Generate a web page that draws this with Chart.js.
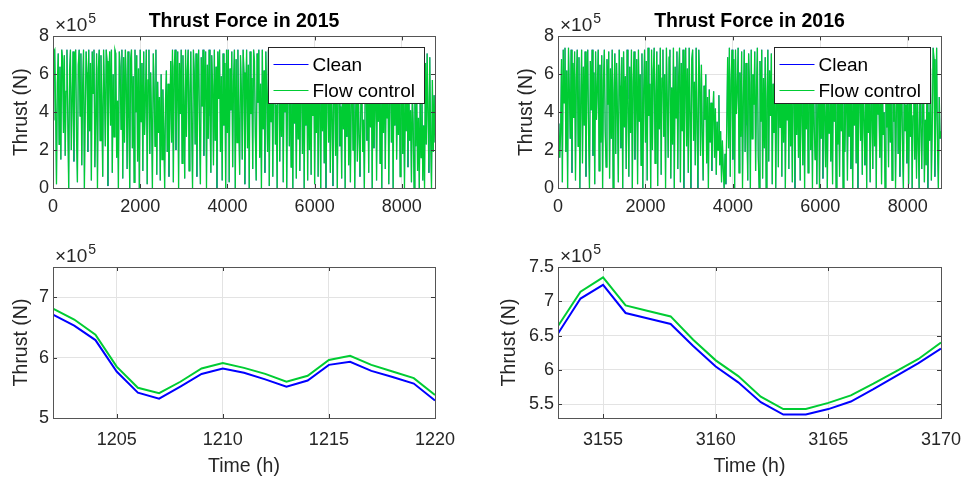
<!DOCTYPE html>
<html>
<head>
<meta charset="utf-8">
<script src="https://cdn.jsdelivr.net/npm/chart.js@4.4.1/dist/chart.umd.min.js"></script>
<style>
  html, body { margin: 0; padding: 0; background: #fff; }
  #wrap { position: relative; width: 966px; height: 478px; overflow: hidden; }
  canvas { position: absolute; }
</style>
</head>
<body>
<div id="wrap">
  <canvas id="year2015" style="left:0px;top:0px" width="480" height="230"></canvas>
  <canvas id="year2016" style="left:490px;top:0px" width="476" height="230"></canvas>
  <canvas id="detail2015" style="left:0px;top:230px" width="480" height="248"></canvas>
  <canvas id="detail2016" style="left:490px;top:230px" width="476" height="248"></canvas>
</div>
<script>
// thrust values are in units of 1e5 N (axes show "x10^5")
const seriesNames = ["Clean", "Flow control"];
const seriesColors = ["#0000ff", "#00cc33"];

// full-year traces, one reading every sampleStep hours
const sampleStep = 20;
const flow2015Year = [
  3.6, 7.2, 7.3, 4.1, 0.2, 5.6, 7.1, 2.3, 6.4, 1.5, 7.3, 6.8, 2.9, 7.0, 1.7, 5.1, 7.3, 3.4, 0.0, 6.2,
  7.3, 2.0, 4.7, 7.2, 1.4, 6.9, 7.3, 2.6, 0.3, 6.5, 7.3, 3.8, 7.1, 1.2, 5.4, 7.3, 0.0, 4.2, 7.2, 6.1,
  1.9, 7.3, 3.0, 6.6, 0.4, 7.2, 5.0, 7.3, 1.1, 3.9, 7.1, 0.0, 6.3, 7.3, 2.5, 7.0, 4.4, 0.6, 7.3, 5.2,
  2.2, 7.3, 6.7, 0.1, 5.8, 7.2, 3.3, 7.3, 0.8, 6.0, 2.7, 7.3, 7.1, 1.6, 4.6, 0.0, 7.2, 6.4, 3.1, 7.3,
  0.5, 6.9, 2.4, 7.3, 5.5, 1.0, 7.2, 3.7, 0.0, 6.8, 7.3, 2.1, 5.9, 0.3, 7.3, 4.0, 7.0, 1.4, 6.3, 0.0,
  7.3, 3.5, 6.6, 0.9, 7.2, 2.8, 4.9, 7.3, 0.2, 5.7, 7.3, 1.8, 6.1, 3.6, 0.0, 7.1, 5.3, 2.2, 7.3, 0.7,
  5.6, 2.9, 4.8, 0.4, 6.0, 1.5, 5.2, 3.1, 0.0, 4.6, 6.2, 1.9, 5.5, 0.6, 3.8, 6.7, 2.4, 7.3, 0.3, 6.4,
  7.3, 2.0, 5.1, 7.2, 0.0, 6.6, 3.9, 7.3, 1.3, 7.0, 4.6, 0.5, 7.3, 2.7, 6.2, 7.3, 0.9, 5.0, 7.2, 3.2,
  0.0, 7.3, 6.1, 2.3, 7.1, 0.6, 5.7, 7.3, 3.0, 0.2, 6.9, 4.3, 7.3, 1.7, 5.3, 7.2, 0.0, 6.5, 2.6, 7.3,
  3.8, 0.8, 7.0, 5.4, 1.2, 7.3, 2.5, 6.4, 0.0, 7.2, 4.7, 7.3, 1.9, 5.9, 0.4, 7.1, 3.3, 6.6, 0.0, 7.3,
  2.9, 7.3, 0.3, 6.3, 4.1, 7.2, 1.1, 5.6, 7.3, 0.0, 6.8, 2.4, 7.3, 3.6, 0.7, 7.0, 5.2, 1.5, 7.3, 6.1,
  0.2, 4.8, 7.3, 2.1, 6.5, 0.0, 7.2, 3.9, 5.8, 1.0, 7.3, 6.7, 2.8, 0.4, 7.1, 4.5, 7.3, 1.6, 5.5, 0.0,
  7.3, 3.1, 6.2, 0.8, 7.2, 5.0, 1.9, 7.3, 0.1, 6.4, 3.5, 7.0, 0.6, 5.7, 7.3, 2.3, 4.4, 0.0, 6.9, 7.2,
  1.4, 5.9, 2.7, 7.3, 0.3, 6.1, 4.0, 7.1, 0.0, 5.3, 7.3, 2.2, 6.6, 1.1, 4.7, 0.0, 7.2, 3.4, 5.6, 0.5,
  6.8, 2.6, 7.3, 0.9, 4.9, 6.4, 1.8, 7.2, 0.0, 5.8, 3.3, 6.9, 0.4, 7.3, 2.0, 5.1, 0.7, 6.3, 3.8, 7.1,
  0.2, 5.5, 2.9, 7.0, 0.6, 6.2, 4.2, 0.0, 7.3, 3.0, 5.7, 1.3, 6.7, 0.0, 4.6, 7.2, 2.4, 5.9, 0.8, 6.5,
  3.6, 0.1, 7.1, 4.8, 1.7, 6.0, 0.0, 5.2, 7.3, 2.2, 4.3, 0.5, 6.8, 3.1, 5.6, 0.0, 6.3, 2.7, 7.0, 1.2,
  5.4, 0.3, 4.7, 6.0, 2.0, 5.1, 0.0, 3.9, 6.1, 1.4, 5.6, 2.8, 0.6, 4.5, 5.9, 1.9, 3.6, 0.0, 5.3, 6.2,
  2.5, 4.9, 0.8, 6.4, 3.2, 5.5, 0.0, 6.8, 2.1, 4.2, 7.1, 0.4, 5.8, 3.5, 6.9, 1.3, 4.8, 0.0, 6.6, 2.9,
  7.2, 1.0, 5.3, 3.7, 6.5, 0.2, 4.6, 7.0, 2.4, 5.9, 0.0, 6.3, 3.3, 7.2, 1.5, 5.0, 2.8, 6.7, 0.6, 4.4,
  6.1, 1.8, 5.6, 0.0, 4.9, 3.0, 6.4, 1.1, 5.2, 2.5, 4.1, 0.3, 5.0, 3.4, 0.0, 4.6, 2.2, 5.3, 0.9, 3.7,
  0.0, 4.8, 1.6, 5.1, 0.4, 3.3, 0.0, 6.6, 2.3, 7.1, 4.0, 0.8, 6.9, 2.6, 0.0, 5.7, 1.9, 4.9, 2.4
];
const flow2016Year = [
  2.0, 3.4, 1.6, 2.9, 6.8, 0.3, 7.3, 4.5, 7.4, 1.9, 6.2, 0.0, 7.4, 5.1, 2.6, 7.3, 0.8, 6.6, 3.7, 7.2,
  0.4, 5.8, 7.3, 2.2, 6.9, 0.0, 4.6, 7.3, 1.3, 6.4, 3.3, 7.2, 0.6, 5.5, 7.3, 2.8, 0.0, 6.7, 4.1, 7.3,
  1.7, 6.1, 0.2, 7.2, 3.6, 5.3, 7.3, 0.9, 6.5, 2.4, 7.0, 0.0, 5.7, 7.3, 3.0, 1.1, 6.8, 4.4, 7.2, 0.5,
  6.3, 2.6, 7.3, 0.0, 5.0, 7.1, 1.8, 6.6, 3.9, 0.3, 7.3, 5.4, 2.1, 6.9, 0.0, 7.2, 3.2, 5.9, 1.0, 7.3,
  4.7, 0.6, 6.4, 2.9, 7.3, 0.0, 5.6, 7.2, 1.5, 4.3, 6.8, 0.2, 7.3, 3.5, 6.0, 1.2, 7.1, 0.0, 5.2, 7.3,
  2.4, 6.7, 0.4, 7.4, 3.8, 5.5, 0.0, 7.3, 2.0, 6.2, 7.4, 1.3, 4.9, 7.2, 0.1, 6.5, 3.1, 7.4, 0.7, 5.8,
  7.3, 2.7, 6.0, 0.0, 7.4, 4.6, 1.6, 6.9, 7.3, 0.5, 5.3, 2.3, 7.4, 0.0, 6.4, 3.7, 7.2, 1.0, 5.9, 7.4,
  0.3, 6.6, 3.0, 7.3, 0.0, 5.1, 7.4, 2.2, 6.3, 0.8, 7.4, 4.0, 0.0, 6.8, 7.3, 2.5, 5.6, 1.2, 7.4, 3.4,
  0.0, 7.3, 5.8, 1.7, 6.5, 2.9, 0.4, 5.4, 3.6, 6.0, 1.3, 4.8, 0.0, 5.2, 2.4, 4.5, 0.9, 3.8, 5.1, 1.6,
  4.2, 0.7, 3.5, 2.0, 4.9, 1.2, 3.0, 0.3, 2.5, 1.0, 0.0, 1.8, 0.2, 3.4, 6.9, 2.1, 7.4, 0.6, 5.7, 7.3,
  1.5, 6.8, 0.0, 7.3, 3.9, 5.2, 7.4, 0.8, 6.1, 2.7, 7.2, 0.0, 4.8, 7.3, 1.9, 6.6, 3.3, 0.4, 7.1, 5.5,
  0.0, 7.3, 2.6, 6.0, 4.4, 7.2, 0.9, 5.3, 7.4, 1.7, 0.0, 6.7, 3.5, 7.3, 0.5, 5.8, 2.1, 6.9, 0.0, 4.6,
  7.3, 1.4, 6.2, 3.8, 7.1, 0.2, 5.5, 2.9, 7.3, 0.0, 4.3, 6.5, 1.1, 7.2, 3.2, 5.9, 0.6, 6.8, 2.4, 7.3,
  0.0, 5.1, 3.6, 6.4, 1.0, 7.2, 2.2, 4.7, 0.3, 6.7, 5.3, 0.0, 7.1, 2.8, 6.0, 1.6, 5.5, 0.4, 6.9, 3.9,
  1.2, 6.3, 0.0, 5.7, 3.1, 7.0, 0.8, 4.5, 6.6, 2.0, 5.2, 0.0, 6.8, 3.4, 1.5, 5.9, 0.2, 4.1, 6.4, 0.0,
  5.5, 2.6, 7.1, 0.5, 6.0, 3.7, 1.1, 6.7, 0.0, 5.0, 2.9, 6.3, 1.4, 4.8, 0.2, 7.0, 3.5, 5.6, 0.0, 6.2,
  2.3, 4.9, 0.6, 6.5, 3.0, 5.4, 0.0, 6.9, 1.9, 4.3, 6.1, 0.4, 5.7, 2.7, 7.1, 1.0, 4.6, 0.0, 6.4, 3.3,
  5.8, 1.3, 6.6, 0.0, 4.2, 6.9, 2.5, 5.1, 0.7, 6.3, 3.6, 1.2, 5.5, 0.0, 6.8, 2.9, 4.7, 0.3, 6.0, 3.8,
  1.0, 6.5, 2.2, 5.3, 0.0, 6.9, 3.9, 4.5, 1.6, 6.1, 0.2, 5.6, 2.8, 4.0, 0.0, 6.4, 3.2, 5.0, 1.1, 6.7,
  2.4, 4.8, 0.4, 6.2, 3.5, 5.4, 0.0, 4.1, 6.6, 1.8, 5.0, 0.6, 3.7, 6.3, 2.0, 0.0, 5.8, 3.0, 4.4, 1.3,
  6.0, 0.2, 4.6, 2.7, 5.5, 0.0, 3.8, 6.2, 1.5, 4.9, 0.5, 5.3, 2.3, 0.0, 6.5, 3.4, 1.0, 4.2, 5.7, 0.3,
  3.6, 1.2, 5.9, 0.0, 4.0, 2.5, 6.3, 0.4, 3.2, 7.4, 6.8, 0.6, 3.9, 7.4, 2.1, 0.0, 4.8, 2.6, 3.0
];
// at full-year scale the clean trace lies under the flow-control trace
const clean2015Year = flow2015Year;
const clean2016Year = flow2016Year;

// zoomed windows, hourly
const hours2015Detail = [1202, 1203, 1204, 1205, 1206, 1207, 1208, 1209, 1210, 1211, 1212, 1213, 1214, 1215, 1216, 1217, 1218, 1219, 1220];
const clean2015Detail = [6.71, 6.53, 6.29, 5.77, 5.42, 5.32, 5.52, 5.73, 5.82, 5.75, 5.64, 5.52, 5.62, 5.88, 5.93, 5.78, 5.68, 5.57, 5.29];
const flow2015Detail  = [6.81, 6.63, 6.38, 5.85, 5.50, 5.41, 5.60, 5.82, 5.91, 5.83, 5.73, 5.60, 5.70, 5.96, 6.03, 5.88, 5.77, 5.66, 5.38];

const hours2016Detail = [3153, 3154, 3155, 3156, 3157, 3158, 3159, 3160, 3161, 3162, 3163, 3164, 3165, 3166, 3167, 3168, 3169, 3170];
const clean2016Detail = [6.53, 7.04, 7.24, 6.83, 6.75, 6.67, 6.35, 6.05, 5.82, 5.53, 5.35, 5.35, 5.43, 5.54, 5.72, 5.91, 6.10, 6.31];
const flow2016Detail  = [6.64, 7.14, 7.35, 6.94, 6.86, 6.78, 6.44, 6.14, 5.91, 5.61, 5.43, 5.43, 5.52, 5.63, 5.80, 5.98, 6.16, 6.40];

// tick labels
const yearXTicks = [0, 2000, 4000, 6000, 8000];
const yearYTicks = [0, 2, 4, 6, 8];
const detail2015XTicks = [1205, 1210, 1215, 1220];
const detail2015YTicks = [5, 6, 7];
const detail2016XTicks = [3155, 3160, 3165, 3170];
const detail2016YTicks = [5.5, 6, 6.5, 7, 7.5];

const FONT = "'Liberation Sans', Arial, Helvetica, sans-serif";
const TXT = "#262626";

function yearPoints(values) {
  return values.map((v, i) => ({ x: i * sampleStep, y: v }));
}
function pairPoints(xs, ys) {
  return xs.map((x, i) => ({ x: x, y: ys[i] }));
}

// MATLAB-like axes box, inward ticks, exponent label and boxed legend
const axesDecor = {
  id: "axesDecor",
  afterDraw(chart, args, opts) {
    const ctx = chart.ctx;
    const a = chart.chartArea;
    const xs = chart.scales.x, ys = chart.scales.y;
    ctx.save();
    ctx.strokeStyle = "#3a3a3a";
    ctx.lineWidth = 1;
    ctx.beginPath();
    xs.ticks.forEach(t => {
      const px = Math.round(xs.getPixelForValue(t.value)) + 0.5;
      ctx.moveTo(px, a.bottom); ctx.lineTo(px, a.bottom - 4);
      ctx.moveTo(px, a.top); ctx.lineTo(px, a.top + 4);
    });
    ys.ticks.forEach(t => {
      const py = Math.round(ys.getPixelForValue(t.value)) + 0.5;
      ctx.moveTo(a.left, py); ctx.lineTo(a.left + 4, py);
      ctx.moveTo(a.right, py); ctx.lineTo(a.right - 4, py);
    });
    ctx.stroke();
    ctx.strokeStyle = "#555";
    ctx.strokeRect(Math.round(a.left) + 0.5, Math.round(a.top) + 0.5,
      Math.round(a.right - a.left), Math.round(a.bottom - a.top));

    // exponent
    ctx.fillStyle = TXT;
    ctx.textBaseline = "alphabetic";
    ctx.textAlign = "left";
    ctx.font = "19px " + FONT;
    const base = a.top - 5;
    ctx.fillText("\u00d710", a.left + 2, base);
    const w = ctx.measureText("\u00d710").width;
    ctx.font = "14px " + FONT;
    ctx.fillText("5", a.left + 2 + w + 1, base - 8);

    // legend
    if (opts.legend) {
      const bw = 156, bh = 56;
      const bx = Math.round(a.right - 11 - bw) + 0.5;
      const by = Math.round(a.top + 11) + 0.5;
      ctx.fillStyle = "#fff";
      ctx.fillRect(bx, by, bw, bh);
      ctx.strokeStyle = "#262626";
      ctx.strokeRect(bx, by, bw, bh);
      ctx.font = "19px " + FONT;
      ctx.textBaseline = "middle";
      chart.data.datasets.forEach((ds, i) => {
        const yy = by + 17 + i * 26;
        ctx.strokeStyle = ds.borderColor;
        ctx.lineWidth = 1;
        ctx.beginPath();
        ctx.moveTo(bx + 5, yy); ctx.lineTo(bx + 40, yy);
        ctx.stroke();
        ctx.fillStyle = "#000";
        ctx.fillText(ds.label, bx + 44, yy + 1);
      });
    }
    ctx.restore();
  }
};

function makeChart(id, cfg) {
  const ctx = document.getElementById(id);
  return new Chart(ctx, {
    type: "line",
    data: {
      datasets: cfg.series.map((s, i) => ({
        label: seriesNames[i],
        data: s,
        order: cfg.series.length - i, // flow control drawn on top
        borderColor: seriesColors[i],
        borderWidth: cfg.lineWidths[i],
        pointRadius: 0,
        tension: 0,
        fill: false
      }))
    },
    options: {
      responsive: false,
      animation: false,
      devicePixelRatio: 1,
      parsing: false,
      layout: { padding: { left: cfg.padLeft, right: cfg.padRight, top: cfg.title ? 0 : 37, bottom: 0 } },
      plugins: {
        legend: { display: false },
        tooltip: { enabled: false },
        title: {
          display: !!cfg.title,
          text: cfg.title || "",
          fullSize: false,
          color: "#000",
          font: { family: FONT, size: 19.5, weight: "bold", lineHeight: 1.2 },
          padding: { top: 10, bottom: 3 }
        },
        axesDecor: { legend: cfg.legend }
      },
      scales: {
        x: {
          type: "linear",
          min: cfg.xMin, max: cfg.xMax,
          afterBuildTicks: s => { s.ticks = cfg.xTicks.map(v => ({ value: v })); },
          afterFit: s => { s.height = cfg.xHeight; s.paddingLeft = 0; s.paddingRight = 0; },
          grid: { color: "#e3e3e3", drawTicks: false, lineWidth: 1 },
          border: { display: false },
          ticks: { color: TXT, font: { family: FONT, size: 18 }, padding: cfg.xTickPad, maxRotation: 0, autoSkip: false,
                   callback: v => String(v) },
          title: { display: !!cfg.xTitle, text: cfg.xTitle || "", color: TXT,
                   font: { family: FONT, size: 19.5 }, padding: { top: 0, bottom: 0 } }
        },
        y: {
          min: cfg.yMin, max: cfg.yMax,
          afterBuildTicks: s => { s.ticks = cfg.yTicks.map(v => ({ value: v })); },
          afterFit: s => { s.width = cfg.yWidth; },
          grid: { color: "#e3e3e3", drawTicks: false, lineWidth: 1 },
          border: { display: false },
          ticks: { color: TXT, font: { family: FONT, size: 18 }, padding: 4, callback: v => String(v) },
          title: { display: true, text: "Thrust (N)", color: TXT,
                   font: { family: FONT, size: 19.5 }, padding: { top: 0, bottom: 0 } }
        }
      }
    },
    plugins: [axesDecor]
  });
}

makeChart("year2015", {
  title: "Thrust Force in 2015",
  series: [yearPoints(clean2015Year), yearPoints(flow2015Year)],
  lineWidths: [0.5, 1.3], legend: true,
  xMin: 0, xMax: 8760, xTicks: yearXTicks, xTickPad: 8,
  yMin: 0, yMax: 8, yTicks: yearYTicks,
  padLeft: 10, padRight: 45, yWidth: 43, xHeight: 42
});
makeChart("year2016", {
  title: "Thrust Force in 2016",
  series: [yearPoints(clean2016Year), yearPoints(flow2016Year)],
  lineWidths: [0.5, 1.3], legend: true,
  xMin: 0, xMax: 8760, xTicks: yearXTicks, xTickPad: 8,
  yMin: 0, yMax: 8, yTicks: yearYTicks,
  padLeft: 25, padRight: 25, yWidth: 43, xHeight: 42
});
makeChart("detail2015", {
  series: [pairPoints(hours2015Detail, clean2015Detail), pairPoints(hours2015Detail, flow2015Detail)],
  lineWidths: [2, 2], legend: false, xTitle: "Time (h)", xTickPad: 11,
  xMin: 1202, xMax: 1220, xTicks: detail2015XTicks,
  yMin: 5, yMax: 7.5, yTicks: detail2015YTicks,
  padLeft: 10, padRight: 45, yWidth: 43, xHeight: 60
});
makeChart("detail2016", {
  series: [pairPoints(hours2016Detail, clean2016Detail), pairPoints(hours2016Detail, flow2016Detail)],
  lineWidths: [2, 2], legend: false, xTitle: "Time (h)", xTickPad: 11,
  xMin: 3153, xMax: 3170, xTicks: detail2016XTicks,
  yMin: 5.3, yMax: 7.5, yTicks: detail2016YTicks,
  padLeft: 8, padRight: 25, yWidth: 60, xHeight: 60
});
</script>
</body>
</html>
